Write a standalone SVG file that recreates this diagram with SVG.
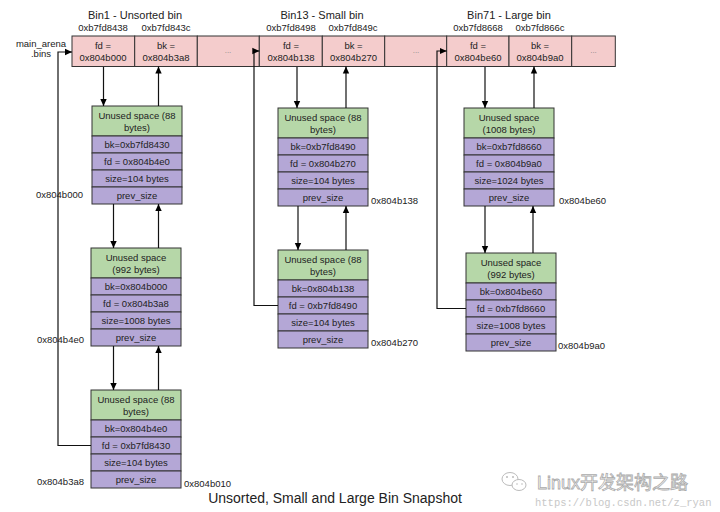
<svg xmlns="http://www.w3.org/2000/svg" width="720" height="512" viewBox="0 0 720 512">
<defs>
<marker id="ah" markerWidth="8" markerHeight="8" refX="7" refY="4" orient="auto" markerUnits="userSpaceOnUse">
<path d="M0,0.8 L7,4 L0,7.2 Z" fill="#000"/>
</marker>
<style>
text{font-family:"Liberation Sans",Arial,sans-serif;fill:#222}
.t{font-size:9.5px;text-anchor:middle}
.l{font-size:9.5px}
.h{font-size:11px;text-anchor:middle}
.cell{fill:#f4cccc;stroke:#333;stroke-width:1}
.g{fill:#b6d7a8;stroke:#333;stroke-width:1}
.p{fill:#b4a7d6;stroke:#333;stroke-width:1}
.dots{font-size:8px;fill:#888;text-anchor:middle}
.c{fill:none;stroke:#111;stroke-width:1.2}
.ca{fill:none;stroke:#111;stroke-width:1.2;marker-end:url(#ah)}
</style>
</defs>
<rect width="720" height="512" fill="#fff"/>

<g id="labels">
<text class="h" x="135" y="19">Bin1 - Unsorted bin</text>
<text class="h" x="322" y="19">Bin13 - Small bin</text>
<text class="h" x="509" y="19">Bin71 - Large bin</text>
<text class="t" x="103" y="30.5">0xb7fd8438</text>
<text class="t" x="166" y="30.5">0xb7fd843c</text>
<text class="t" x="291" y="30.5">0xb7fd8498</text>
<text class="t" x="353" y="30.5">0xb7fd849c</text>
<text class="t" x="478" y="30.5">0xb7fd8668</text>
<text class="t" x="540" y="30.5">0xb7fd866c</text>
<text class="t" x="41" y="46.5">main_arena</text>
<text class="t" x="41" y="57">.bins</text>
<text class="l" x="83" y="197.5" text-anchor="end">0x804b000</text>
<text class="l" x="84" y="342.5" text-anchor="end">0x804b4e0</text>
<text class="l" x="84" y="484.5" text-anchor="end">0x804b3a8</text>
<text class="l" x="184" y="486.5">0x804b010</text>
<text class="l" x="371" y="204">0x804b138</text>
<text class="l" x="371" y="346">0x804b270</text>
<text class="l" x="559" y="204">0x804be60</text>
<text class="l" x="558" y="349">0x804b9a0</text>
<text x="335" y="503" font-size="14" text-anchor="middle">Unsorted, Small and Large Bin Snapshot</text>
</g>

<g id="bins">
<rect class="cell" x="72" y="36" width="62.7" height="30.5"/>
<rect class="cell" x="134.7" y="36" width="62.6" height="30.5"/>
<rect class="cell" x="197.3" y="36" width="62" height="30.5"/>
<rect class="cell" x="259.3" y="36" width="63" height="30.5"/>
<rect class="cell" x="322.3" y="36" width="62.4" height="30.5"/>
<rect class="cell" x="384.7" y="36" width="62" height="30.5"/>
<rect class="cell" x="446.7" y="36" width="62.3" height="30.5"/>
<rect class="cell" x="509" y="36" width="62.7" height="30.5"/>
<rect class="cell" x="571.7" y="36" width="43.6" height="30.5"/>
<text class="t" x="103" y="48.5">fd =</text><text class="t" x="103" y="60.5">0x804b000</text>
<text class="t" x="166" y="48.5">bk =</text><text class="t" x="166" y="60.5">0x804b3a8</text>
<text class="dots" x="228" y="53">...</text>
<text class="t" x="291" y="48.5">fd =</text><text class="t" x="291" y="60.5">0x804b138</text>
<text class="t" x="353.5" y="48.5">bk =</text><text class="t" x="353.5" y="60.5">0x804b270</text>
<text class="dots" x="416" y="53">...</text>
<text class="t" x="478" y="48.5">fd =</text><text class="t" x="478" y="60.5">0x804be60</text>
<text class="t" x="540" y="48.5">bk =</text><text class="t" x="540" y="60.5">0x804b9a0</text>
<text class="dots" x="593.5" y="53">...</text>
</g>

<g id="chunk-1a" transform="translate(92,106)">
<rect class="g" width="90" height="30"/><rect class="p" y="30" width="90" height="17"/><rect class="p" y="47" width="90" height="17"/><rect class="p" y="64" width="90" height="17"/><rect class="p" y="81" width="90" height="17"/>
<text class="t" x="45" y="13">Unused space (88</text><text class="t" x="45" y="24.5">bytes)</text>
<text class="t" x="45" y="42">bk=0xb7fd8430</text><text class="t" x="45" y="59">fd = 0x804b4e0</text><text class="t" x="45" y="76">size=104 bytes</text><text class="t" x="45" y="93">prev_size</text>
</g>
<g id="chunk-1b" transform="translate(91,248)">
<rect class="g" width="90" height="30"/><rect class="p" y="30" width="90" height="17"/><rect class="p" y="47" width="90" height="17"/><rect class="p" y="64" width="90" height="17"/><rect class="p" y="81" width="90" height="17"/>
<text class="t" x="45" y="13">Unused space</text><text class="t" x="45" y="24.5">(992 bytes)</text>
<text class="t" x="45" y="42">bk=0x804b000</text><text class="t" x="45" y="59">fd = 0x804b3a8</text><text class="t" x="45" y="76">size=1008 bytes</text><text class="t" x="45" y="93">prev_size</text>
</g>
<g id="chunk-1c" transform="translate(91,390)">
<rect class="g" width="90" height="30"/><rect class="p" y="30" width="90" height="17"/><rect class="p" y="47" width="90" height="17"/><rect class="p" y="64" width="90" height="17"/><rect class="p" y="81" width="90" height="17"/>
<text class="t" x="45" y="13">Unused space (88</text><text class="t" x="45" y="24.5">bytes)</text>
<text class="t" x="45" y="42">bk=0x804b4e0</text><text class="t" x="45" y="59">fd = 0xb7fd8430</text><text class="t" x="45" y="76">size=104 bytes</text><text class="t" x="45" y="93">prev_size</text>
</g>
<g id="chunk-2a" transform="translate(278,108)">
<rect class="g" width="90" height="30"/><rect class="p" y="30" width="90" height="17"/><rect class="p" y="47" width="90" height="17"/><rect class="p" y="64" width="90" height="17"/><rect class="p" y="81" width="90" height="17"/>
<text class="t" x="45" y="13">Unused space (88</text><text class="t" x="45" y="24.5">bytes)</text>
<text class="t" x="45" y="42">bk=0xb7fd8490</text><text class="t" x="45" y="59">fd = 0x804b270</text><text class="t" x="45" y="76">size=104 bytes</text><text class="t" x="45" y="93">prev_size</text>
</g>
<g id="chunk-2b" transform="translate(278,250)">
<rect class="g" width="90" height="30"/><rect class="p" y="30" width="90" height="17"/><rect class="p" y="47" width="90" height="17"/><rect class="p" y="64" width="90" height="17"/><rect class="p" y="81" width="90" height="17"/>
<text class="t" x="45" y="13">Unused space (88</text><text class="t" x="45" y="24.5">bytes)</text>
<text class="t" x="45" y="42">bk=0x804b138</text><text class="t" x="45" y="59">fd = 0xb7fd8490</text><text class="t" x="45" y="76">size=104 bytes</text><text class="t" x="45" y="93">prev_size</text>
</g>
<g id="chunk-3a" transform="translate(464,108)">
<rect class="g" width="90" height="30"/><rect class="p" y="30" width="90" height="17"/><rect class="p" y="47" width="90" height="17"/><rect class="p" y="64" width="90" height="17"/><rect class="p" y="81" width="90" height="17"/>
<text class="t" x="45" y="13">Unused space</text><text class="t" x="45" y="24.5">(1008 bytes)</text>
<text class="t" x="45" y="42">bk=0xb7fd8660</text><text class="t" x="45" y="59">fd = 0x804b9a0</text><text class="t" x="45" y="76">size=1024 bytes</text><text class="t" x="45" y="93">prev_size</text>
</g>
<g id="chunk-3b" transform="translate(466,253)">
<rect class="g" width="90" height="30"/><rect class="p" y="30" width="90" height="17"/><rect class="p" y="47" width="90" height="17"/><rect class="p" y="64" width="90" height="17"/><rect class="p" y="81" width="90" height="17"/>
<text class="t" x="45" y="13">Unused space</text><text class="t" x="45" y="24.5">(992 bytes)</text>
<text class="t" x="45" y="42">bk=0x804be60</text><text class="t" x="45" y="59">fd = 0xb7fd8660</text><text class="t" x="45" y="76">size=1008 bytes</text><text class="t" x="45" y="93">prev_size</text>
</g>

<g id="connectors">
<path class="ca" d="M103.5 67 V106"/>
<path class="ca" d="M158.5 106 V66.5"/>
<path class="ca" d="M113.5 204 V248"/>
<path class="ca" d="M158.5 248 V204"/>
<path class="ca" d="M113.5 346 V390"/>
<path class="ca" d="M158.5 390 V346"/>
<path class="ca" d="M91 445.5 H58 V52 H72"/>
<path class="ca" d="M297 67 V108"/>
<path class="ca" d="M346 108 V66.5"/>
<path class="ca" d="M298 206 V250"/>
<path class="ca" d="M346 250 V206"/>
<path class="ca" d="M278 305.5 H254 V51 H259.3"/>
<path class="ca" d="M485 67 V108"/>
<path class="ca" d="M534 108 V66.5"/>
<path class="ca" d="M485 206 V253"/>
<path class="ca" d="M533 253 V206"/>
<path class="ca" d="M466 308.5 H437 V51 H446.7"/>
</g>

<g id="watermark">
<ellipse cx="510" cy="479" rx="8" ry="6.5" fill="#fff" stroke="#bbb" stroke-width="1"/>
<ellipse cx="519" cy="485" rx="7" ry="5.5" fill="#fff" stroke="#bbb" stroke-width="1"/>
<circle cx="507" cy="477" r="1" fill="#bbb"/><circle cx="513" cy="477" r="1" fill="#bbb"/>
<circle cx="517" cy="484" r="0.8" fill="#bbb"/><circle cx="522" cy="484" r="0.8" fill="#bbb"/>
<text x="537" y="489" font-size="18" fill="#fff" stroke="#aaa" stroke-width="0.8" style="font-family:'Liberation Sans','Noto Sans CJK SC',sans-serif;fill:#fff">Linux开发架构之路</text>
<text x="535" y="506" font-size="10.5" style="font-family:'Liberation Mono',monospace;fill:#c8c8c8">https://blog.csdn.net/z_ryan</text>
</g>
</svg>
